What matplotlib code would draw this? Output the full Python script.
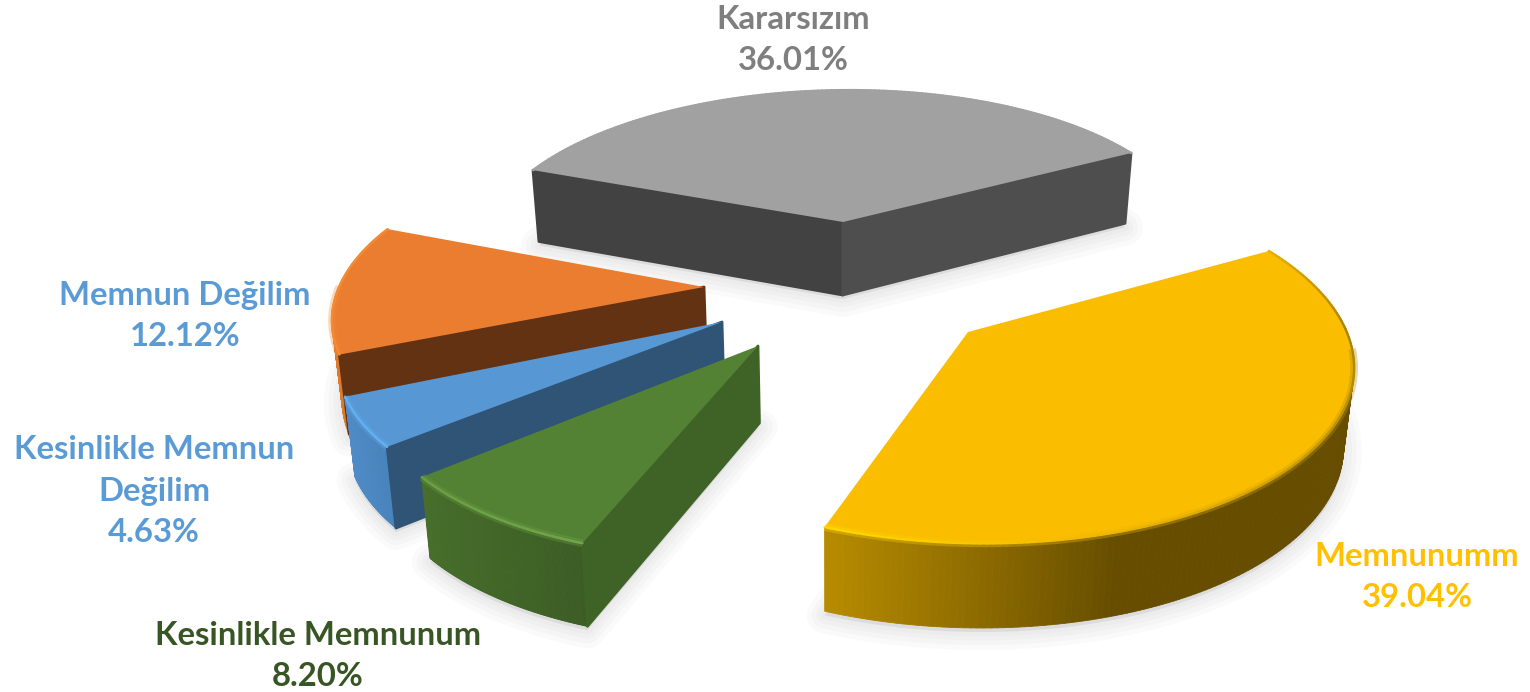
import numpy as np
import matplotlib
matplotlib.use("Agg")
import matplotlib.pyplot as plt
from matplotlib.colors import to_rgb
from matplotlib.collections import PolyCollection, LineCollection
from matplotlib.patches import Polygon

# ---------- data (clockwise, starting with the yellow slice) ----------
categories = ["Memnunumm", "Kesinlikle Memnunum", "Kesinlikle Memnun\nDeğilim",
              "Memnun Değilim", "Kararsızım"]
values = [39.04, 8.20, 4.63, 12.12, 36.01]

# ---------- styles and layout ----------
START_ANGLE = 58.0       # clockwise from the back of the pie
PERSPECTIVE = 0.15
VERT_CONV = 0.02
VANISH_X = 830.0

label_colors = ["#FFC000", "#375623", "#5B9BD5", "#5B9BD5", "#7F7F7F"]
label_x = [1417, 318, 154, 185, 793]
label_y = [577, 656, 491, 316, 40]

apex = [(968, 332), (758, 346), (722, 322), (704, 287), (843, 222)]
# a, b, c, d of the projected circle of every slice
shape = [(382, 1.6, 179.5, -9.0), (378, 32, 179.3, -2.6), (373.6, 35, 173, -4.4),
         (360.7, 35.3, 166.5, -8.6), (350.6, 25.7, 151.5, -6.9)]
depth = [78, 77, 77, 77, 73]
top_color = ["#FBBD00", "#548235", "#5797D3", "#EB7D30", "#A1A1A1"]
# colour of the straight wall at the first / last edge; None = not visible
start_wall = [None, "#3F6227", "#305475", "#633212", "#424242"]
end_wall = [None, None, None, None, "#4E4E4E"]
outer_stops = [[(825, "#B88C00"), (1120, "#664D00"), (1360, "#664D00")],
               [(422, "#476E2B"), (583, "#3B5C24")],
               [(346, "#4F8BC6"), (400, "#4780B8")],
               [(330, "#DD7A2C"), (400, "#DD7A2C")],
               [(500, "#4A4A4A"), (1200, "#4A4A4A")]]
rim_stops = [[(0.0, "#E6B000"), (0.2, "#A98300"), (0.5, "#C79A00"), (0.8, "#F6BE00"), (1.0, "#FFD800")],
             [(0.0, "#6FA548"), (1.0, "#6A9E45")],
             [(0.0, "#63AEEE"), (1.0, "#63AEEE")],
             [(0.0, "#F48A34"), (1.0, "#F48A34")],
             [(0.0, "#A1A1A1"), (1.0, "#A1A1A1")]]
draw_order = [4, 3, 2, 1, 0]


def mix(stops, v):
    xs = [s[0] for s in stops]
    cols = np.array([to_rgb(s[1]) for s in stops])
    return tuple(np.interp(v, xs, cols[:, k]) for k in range(3))


fig = plt.figure(figsize=(15.3, 6.92), dpi=100)
ax = fig.add_axes([0, 0, 1, 1])
ax.set_xlim(0, 1530)
ax.set_ylim(692, 0)
ax.axis("off")

shares = np.array(values) / np.sum(values) * 360.0
edges = START_ANGLE + np.concatenate([[0.0], np.cumsum(shares)])


def top_pts(i, deg):
    t = np.radians(deg)
    a, b, c, d = shape[i]
    w = 1 + PERSPECTIVE * np.cos(t)
    return (apex[i][0] + (a * np.sin(t) + b * np.cos(t)) / w,
            apex[i][1] - (c * np.cos(t) + d * np.sin(t)) / w)


def drop(i, x, y, deg=None):
    w = 1.0 if deg is None else 1 + PERSPECTIVE * np.cos(np.radians(deg))
    return x + (VANISH_X - x) * VERT_CONV, y + depth[i] / np.sqrt(w)


# soft ground shadows
for i in draw_order:
    th = np.linspace(edges[i], edges[i + 1], 80)
    x, y = top_pts(i, th)
    bx, by = drop(i, x, y, th)
    ax0, ay0 = drop(i, *apex[i])
    poly = np.column_stack([np.r_[ax0, bx], np.r_[ay0, by] + 4])
    for lw in (26, 19, 12, 6):
        ax.add_patch(Polygon(poly, closed=True, fc="#808080", ec="#808080", lw=lw,
                             alpha=0.035, joinstyle="round", zorder=1))

# slices, back to front
z = 2
for i in draw_order:
    th = np.linspace(edges[i], edges[i + 1], 160)
    x, y = top_pts(i, th)
    bx, by = drop(i, x, y, th)
    ax0, ay0 = apex[i]
    abx, aby = drop(i, ax0, ay0)

    quads, cols = [], []
    for k in range(len(th) - 1):
        quads.append([(x[k], y[k]), (x[k + 1], y[k + 1]), (bx[k + 1], by[k + 1]), (bx[k], by[k])])
        cols.append(mix(outer_stops[i], 0.5 * (x[k] + x[k + 1])))
    ax.add_collection(PolyCollection(quads, facecolors=cols, edgecolors=cols, linewidths=0.6, zorder=z))

    if start_wall[i]:
        ax.add_patch(Polygon([(ax0, ay0), (x[0], y[0]), (bx[0], by[0]), (abx, aby)], closed=True,
                             fc=start_wall[i], ec=start_wall[i], lw=2, joinstyle="round", zorder=z + 0.1))
    if end_wall[i]:
        ax.add_patch(Polygon([(ax0, ay0), (x[-1], y[-1]), (bx[-1], by[-1]), (abx, aby)], closed=True,
                             fc=end_wall[i], ec=end_wall[i], lw=2, joinstyle="round", zorder=z + 0.1))

    ax.add_patch(Polygon(np.column_stack([np.r_[ax0, x], np.r_[ay0, y]]), closed=True,
                         fc=top_color[i], ec="none", zorder=z + 0.2))

    segs = [[(x[k], y[k]), (x[k + 1], y[k + 1])] for k in range(len(th) - 1)]
    frac = np.linspace(0, 1, len(segs))
    rim = [mix(rim_stops[i], f) for f in frac]
    front = np.cos(np.radians(0.5 * (th[:-1] + th[1:]))) < -0.05
    if front.any() and i != 4:
        ax.add_collection(LineCollection([s for s, f in zip(segs, front) if f],
                                         colors=[c for c, f in zip(rim, front) if f],
                                         linewidths=5.5, alpha=0.35, zorder=z + 0.25))
    ax.add_collection(LineCollection(segs, colors=rim, linewidths=1.7, capstyle="round", zorder=z + 0.3))
    z += 1

# labels
for name, val, col, lx, ly in zip(categories, values, label_colors, label_x, label_y):
    ax.text(lx, ly, f"{name}\n{val:.2f}%", color=col, ha="center", va="center",
            family="Lato", fontweight="bold", fontsize=23.7, linespacing=1.54, zorder=50)

fig.savefig("out.png", dpi=100, facecolor="white")
